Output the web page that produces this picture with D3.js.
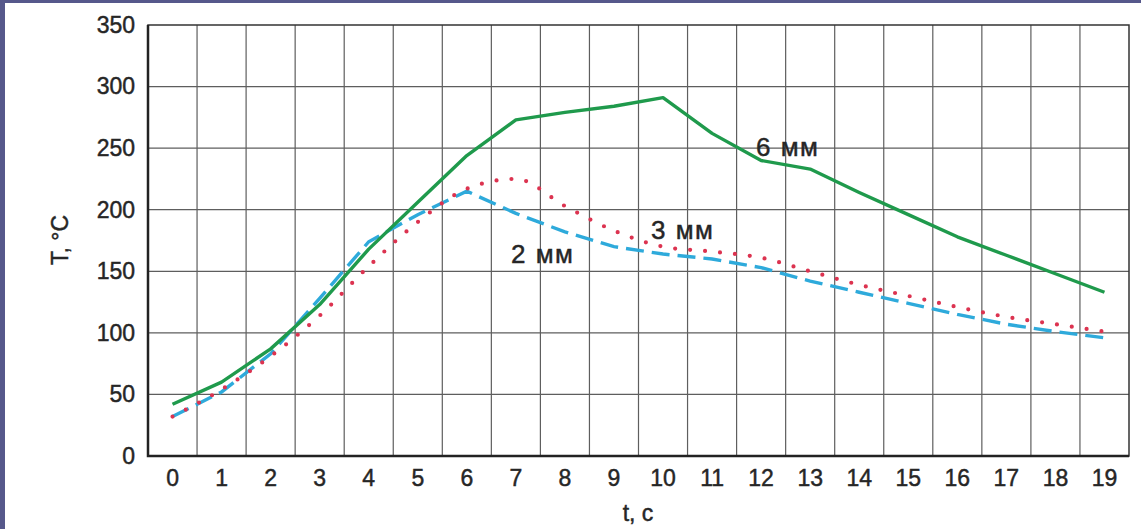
<!DOCTYPE html>
<meta charset="utf-8">
<style>
body { margin: 0; background: #fff; }
svg { display: block; }
.tick text { font-family: "Liberation Sans", Arial, sans-serif; font-size: 23px; fill: #262626; stroke: #262626; stroke-width: 0.45px; }
.label { font-family: "Liberation Sans", Arial, sans-serif; font-size: 23px; fill: #262626; stroke: #262626; stroke-width: 0.45px; }
.series { font-size: 26px; letter-spacing: 1.5px; }
.grid line { stroke: #5e5e5e; stroke-width: 1.2; }
</style>
<svg width="1141" height="529"></svg>
<script src="https://cdnjs.cloudflare.com/ajax/libs/d3/7.8.5/d3.min.js"></script>
<script>

// time, s
var times = d3.range(0, 20);
var tickLabels = times.map(String);
var yTicks = [0, 50, 100, 150, 200, 250, 300, 350];

// temperature, °C
var t6mm = [42, 60, 87, 123, 168, 206, 244, 273, 279, 284, 291, 262, 240, 233, 214, 196, 178, 163, 148, 133];
var t3mm = [32, 54, 81, 114, 154, 190, 217, 225, 203, 183, 170, 166, 161, 150, 139, 130, 121, 113, 107, 101];
var t2mm = [32, 52, 83, 128, 174, 196, 215, 197, 182, 170, 164, 160, 153, 142, 133, 124, 115, 107, 101, 96];

var svg = d3.select("svg"),
    width = +svg.attr("width"),
    height = +svg.attr("height");

// purple frame at top and left
svg.append("rect").attr("width", width).attr("height", height).attr("fill", "#56588b");
svg.append("rect").attr("x", 5).attr("y", 3).attr("width", width - 5).attr("height", height - 3).attr("fill", "#fff");

var margin = {left: 148, top: 25, right: 12, bottom: 73};
var w = width - margin.left - margin.right,
    h = height - margin.top - margin.bottom;

var g = svg.append("g").attr("transform", "translate(" + margin.left + "," + margin.top + ")");

var x = d3.scaleBand().domain(times).range([0, w]).padding(0);
var y = d3.scaleLinear().domain([0, 350]).range([h, 0]);

// grid: vertical lines at cell borders
g.append("g").attr("class", "grid")
  .selectAll("line")
  .data(times.slice(1))
  .enter().append("line")
    .attr("x1", function(d) { return x(d); })
    .attr("x2", function(d) { return x(d); })
    .attr("y1", 0).attr("y2", h);

g.append("g").attr("class", "grid")
  .selectAll("line")
  .data(yTicks.slice(1, -1))
  .enter().append("line")
    .attr("x1", 0).attr("x2", w)
    .attr("y1", function(d) { return y(d); })
    .attr("y2", function(d) { return y(d); });

// frame
g.append("rect")
  .attr("width", w).attr("height", h)
  .attr("fill", "none").attr("stroke", "#333").attr("stroke-width", 1.5);
g.append("path")
  .attr("d", "M0,0V" + h + "H" + w)
  .attr("fill", "none").attr("stroke", "#222").attr("stroke-width", 2.5);

// axes
var xAxis = g.append("g")
  .attr("transform", "translate(0," + h + ")")
  .call(d3.axisBottom(x).tickSize(0).tickPadding(14).tickFormat(function(d, i) { return tickLabels[i]; }));
xAxis.select(".domain").remove();

var yAxis = g.append("g")
  .call(d3.axisLeft(y).tickValues(yTicks).tickSize(0).tickPadding(13));
yAxis.select(".domain").remove();

// lines
var cx = function(d, i) { return x(times[i]) + x.bandwidth() / 2; };

var lineStraight = d3.line().x(cx).y(function(d) { return y(d); });
var lineSmooth = d3.line().x(cx).y(function(d) { return y(d); }).curve(d3.curveMonotoneX);

g.append("path")
  .datum(t2mm)
  .attr("d", lineStraight)
  .attr("fill", "none")
  .attr("stroke", "#2eaadb")
  .attr("stroke-width", 3.4)
  .attr("stroke-dasharray", "18 8");

g.append("path")
  .datum(t3mm)
  .attr("d", lineSmooth)
  .attr("fill", "none")
  .attr("stroke", "#dc3350")
  .attr("stroke-width", 4.2)
  .attr("stroke-linecap", "round")
  .attr("stroke-dasharray", "0 15");

g.append("path")
  .datum(t6mm)
  .attr("d", lineStraight)
  .attr("fill", "none")
  .attr("stroke", "#1f9a4c")
  .attr("stroke-width", 3.4)
  .attr("stroke-linejoin", "round");

// series labels
svg.append("text").attr("class", "label series").attr("x", 756).attr("y", 156).text("6 мм");
svg.append("text").attr("class", "label series").attr("x", 651).attr("y", 239).text("3 мм");
svg.append("text").attr("class", "label series").attr("x", 511).attr("y", 263).text("2 мм");

// axis titles
svg.append("text").attr("class", "label")
  .attr("text-anchor", "middle")
  .attr("transform", "translate(68,240) rotate(-90)")
  .text("T, °C");

svg.append("text").attr("class", "label")
  .attr("text-anchor", "middle")
  .attr("x", 638).attr("y", 521)
  .text("t, c");

</script>
